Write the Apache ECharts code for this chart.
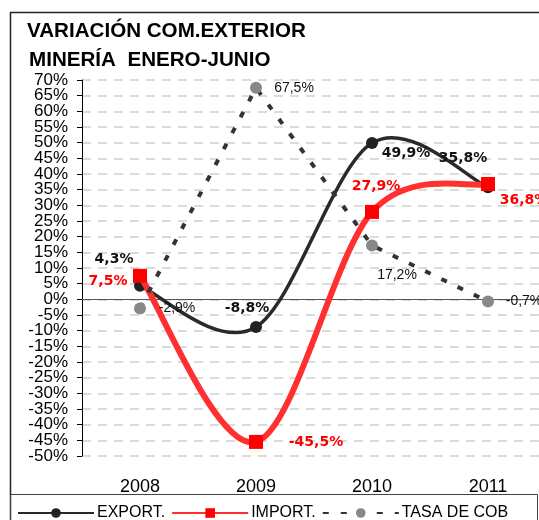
<!DOCTYPE html>
<html><head><meta charset="utf-8">
<script src="https://cdn.jsdelivr.net/npm/echarts@6/dist/echarts.min.js"></script>
<style>html,body{margin:0;padding:0;background:#fff}#c{width:539px;height:520px}</style>
</head><body><div id="c"></div>
<script>
const categories = ['2008', '2009', '2010', '2011'];
const exportVals = [4.3, -8.8, 49.9, 35.8];
const importVals = [7.5, -45.5, 27.9, 36.8];
const tasaVals = [-2.9, 67.5, 17.2, -0.7];
const seriesNames = ['EXPORT.', 'IMPORT.', 'TASA DE COB'];
const titleLines = ['VARIACIÓN COM.EXTERIOR', 'MINERÍA  ENERO-JUNIO'];

// label placement offsets (layout only)
const exportOff = [[-26, -27], [-9, -19], [34, 10], [-25, -29]];
const importOff = [[-32, 6], [60, 0], [4, -26], [36, 16]];
const tasaOff = [[37, 0], [38, 0], [25, 30], [36, 0]];

const fmt = v => v.toFixed(1).replace('.', ',') + '%';

function build(vals, offs, lbl) {
  return vals.map((v, i) => ({
    value: v,
    label: Object.assign({ show: true, position: 'inside', offset: offs[i], formatter: fmt(v) }, lbl)
  }));
}

// Spreadsheet-style smoothed curve through the data points (drawn via axis coords)
function smoothRenderer(vals, color, width) {
  return function (params, api) {
    const pts = vals.map((v, i) => api.coord([i, v]));
    const children = [];
    for (let i = 0; i < pts.length - 1; i++) {
      const p0 = pts[i], p1 = pts[i + 1];
      const prev = pts[i - 1] || p0, next = pts[i + 2] || p1;
      const c1 = [p0[0] + (p1[0] - prev[0]) / 6, p0[1] + (p1[1] - prev[1]) / 6];
      const c2 = [p1[0] - (next[0] - p0[0]) / 6, p1[1] - (next[1] - p0[1]) / 6];
      children.push({
        type: 'bezierCurve',
        shape: { x1: p0[0], y1: p0[1], cpx1: c1[0], cpy1: c1[1], cpx2: c2[0], cpy2: c2[1], x2: p1[0], y2: p1[1] },
        style: { stroke: color, lineWidth: width, fill: null, lineCap: 'round' }
      });
    }
    return { type: 'group', children };
  };
}

const gridLine = { color: '#cfcfcf', type: [9, 7], width: 1.5 };
const step = 376 / 24;

const chart = echarts.init(document.getElementById('c'), null, { renderer: 'canvas' });
chart.setOption({
  animation: false,
  backgroundColor: '#fff',
  textStyle: { fontFamily: 'Liberation Sans, Arial, sans-serif' },
  graphic: [
    { type: 'rect', shape: { x: 10.5, y: 12.5, width: 560, height: 560 }, style: { fill: 'none', stroke: '#222', lineWidth: 1.5 }, z: 0 },
    { type: 'rect', shape: { x: 10.5, y: 494.5, width: 527, height: 40 }, style: { fill: 'none', stroke: '#444', lineWidth: 1 }, z: 0 },
    { type: 'text', style: { x: 27, y: 31, text: titleLines[0], font: 'bold 20.6px Liberation Sans', fill: '#000', textVerticalAlign: 'middle' } },
    { type: 'text', style: { x: 29, y: 60, text: titleLines[1], font: 'bold 20.6px Liberation Sans', fill: '#000', textVerticalAlign: 'middle' } }
  ],
  legend: {
    left: 12, top: 500, itemWidth: 76, itemHeight: 12, itemGap: 6,
    data: [
      { name: seriesNames[0], lineStyle: { opacity: 1 } },
      { name: seriesNames[1], lineStyle: { opacity: 1 } },
      { name: seriesNames[2] }
    ],
    textStyle: { fontSize: 16, color: '#000', padding: [0, 0, 0, -2] }
  },
  grid: [
    { left: 82, top: 80, width: 464, height: 376, outerBoundsMode: 'none', containLabel: false },
    { left: 82, top: 80 - step, width: 464, height: 376 + 2 * step, outerBoundsMode: 'none', containLabel: false }
  ],
  xAxis: [
    {
      type: 'category', data: categories, boundaryGap: true, gridIndex: 0,
      axisLine: { show: false }, axisTick: { show: false },
      axisLabel: { fontSize: 18, color: '#000', margin: 22 },
      splitLine: { show: false }
    },
    { type: 'category', data: categories, gridIndex: 1, show: false }
  ],
  yAxis: [
    {
      type: 'value', min: -50, max: 70, interval: 10, gridIndex: 0,
      axisLine: { show: true, lineStyle: { color: '#000', width: 1 } },
      axisTick: { show: true, length: 5, lineStyle: { color: '#000' } },
      minorTick: { show: true, splitNumber: 2, length: 5, lineStyle: { color: '#000' } },
      axisLabel: { fontSize: 17, color: '#000', margin: 14, showMinLabel: true, showMaxLabel: true, formatter: v => v + '%' },
      splitLine: { show: true, lineStyle: gridLine },
      minorSplitLine: { show: true, lineStyle: gridLine }
    },
    {
      type: 'value', min: -55, max: 75, interval: 10, gridIndex: 1,
      axisLine: { show: false }, axisTick: { show: false }, splitLine: { show: false },
      axisLabel: { fontSize: 17, color: '#000', margin: 14, showMinLabel: false, showMaxLabel: false, formatter: v => v + '%' }
    }
  ],
  series: [
    {
      type: 'custom', silent: true, z: 2, data: [[0, 0]],
      renderItem: smoothRenderer(exportVals, '#2a2a2a', 3.5)
    },
    {
      name: seriesNames[0], type: 'line', z: 3,
      data: build(exportVals, exportOff, { color: '#111', fontWeight: 'bold', fontSize: 14, fontFamily: 'DejaVu Sans' }),
      symbol: 'circle', symbolSize: 12,
      itemStyle: { color: '#222' },
      lineStyle: { color: '#2a2a2a', width: 3.5, opacity: 0 },
      markLine: { silent: true, symbol: 'none', label: { show: false }, lineStyle: { color: '#555', type: 'solid', width: 1, opacity: 1 }, data: [{ yAxis: 0 }], z: 1 }
    },
    {
      type: 'custom', silent: true, z: 4, data: [[0, 0]],
      renderItem: smoothRenderer(importVals, '#ff3030', 6)
    },
    {
      name: seriesNames[1], type: 'line', z: 5,
      data: build(importVals, importOff, { color: '#ff0000', fontWeight: 'bold', fontSize: 14, fontFamily: 'DejaVu Sans' }),
      symbol: 'rect', symbolSize: 14,
      itemStyle: { color: '#ff0000' },
      lineStyle: { color: '#ff3030', width: 6, opacity: 0 }
    },
    {
      name: seriesNames[2], type: 'line', smooth: false, z: 6,
      data: build(tasaVals, tasaOff, { color: '#111', fontSize: 14 }),
      symbol: 'circle', symbolSize: 12,
      itemStyle: { color: '#888' },
      lineStyle: { color: '#333', width: 4, type: [6, 12] }
    }
  ]
});
</script></body></html>
